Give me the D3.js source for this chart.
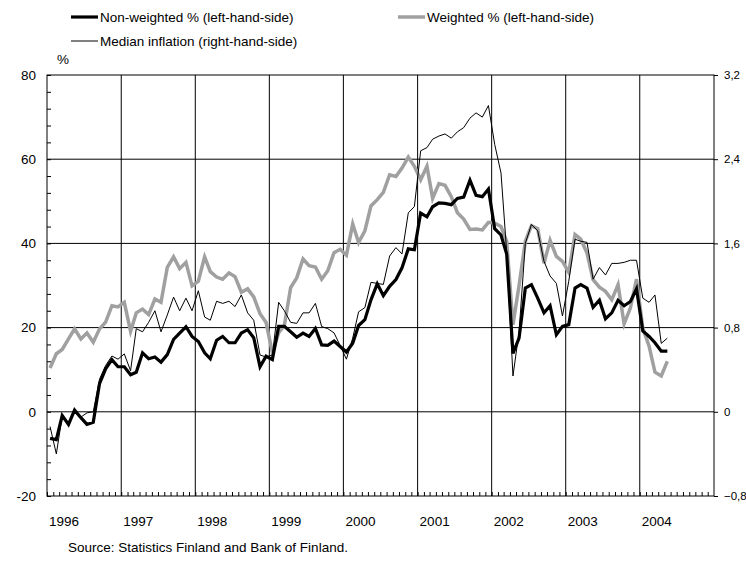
<!DOCTYPE html>
<meta charset="utf-8">
<head>
<style>
body { margin: 0; background: #fff; }
svg text { font-family: "Liberation Sans", Arial, sans-serif; fill: #000; }
</style>
<script src="https://cdnjs.cloudflare.com/ajax/libs/d3/7.8.5/d3.min.js"></script>
</head>
<body>
<div id="chart"></div>
<script>
// monthly observations, Jan 1996 .. May 2004
var startMonth = new Date(1996, 0, 1)
var years = [1996, 1997, 1998, 1999, 2000, 2001, 2002, 2003, 2004]
var leftTicks = [-20, 0, 20, 40, 60, 80]
var rightTicks = [-0.8, 0, 0.8, 1.6, 2.4, 3.2]

var nonWeighted = [
  -6.3, -6.6, -0.9, -3.0, 0.4, -1.4, -3.0, -2.5, 6.7, 10.2, 12.4, 10.7,
  10.7, 8.8, 9.4, 14.0, 12.6, 13.0, 11.8, 13.6, 17.2, 18.7, 20.2, 17.9,
  16.7, 14.0, 12.6, 17.0, 17.9, 16.4, 16.4, 18.7, 19.5, 17.6, 10.7, 13.2,
  12.4, 20.3, 20.3, 19.0, 17.7, 18.7, 17.9, 19.8, 15.9, 15.8, 16.8, 15.5,
  14.2, 16.3, 20.5, 21.9, 26.6, 30.4, 27.6, 29.8, 31.4, 34.2, 38.7, 38.5,
  47.2, 46.3, 48.7, 49.6, 49.5, 49.2, 50.7, 51.0, 55.0, 51.4, 51.1, 52.9,
  43.5, 42.0, 37.5, 13.9, 17.5, 29.4, 30.2, 27.0, 23.5, 25.2, 18.3, 20.3,
  20.7, 29.4, 30.2, 29.4, 24.8, 26.5, 22.1, 23.5, 26.5, 25.2, 26.2, 29.2,
  19.2, 17.9, 16.4, 14.4, 14.4
]

var weighted = [
  10.4, 13.8, 14.8, 17.3, 19.7, 17.3, 18.7, 16.5, 19.7, 21.3, 25.2, 24.9,
  26.0, 19.1, 23.5, 24.4, 23.1, 26.8, 26.0, 34.3, 36.8, 34.0, 35.5, 29.9,
  31.0, 36.8, 33.3, 32.0, 31.5, 33.0, 32.1, 28.4, 29.2, 27.3, 23.3, 21.2,
  14.0, 18.8, 20.5, 29.5, 31.8, 36.3, 34.7, 34.4, 31.5, 33.5, 37.8, 38.6,
  37.2, 44.6, 40.2, 43.0, 48.9, 50.4, 52.1, 56.3, 55.9, 57.9, 60.5, 58.3,
  55.1, 58.3, 50.7, 54.2, 53.8, 51.1, 47.3, 45.8, 43.3, 43.4, 43.2, 45.0,
  44.8, 44.0, 40.5, 20.7, 30.0, 40.5, 44.2, 43.5, 35.3, 40.7, 36.9, 35.7,
  33.1, 42.1, 41.0, 37.7, 31.4, 29.6, 28.6, 26.6, 30.2, 20.9, 24.7, 31.5,
  19.9, 15.6, 9.4, 8.5, 12.0
]

// right-hand-side scale
var medianInflation = [
  -0.14, -0.40, -0.04, -0.11, 0.01, -0.05, -0.01, 0.00, 0.31, 0.44, 0.53, 0.50,
  0.55, 0.39, 0.79, 0.76, 0.85, 0.96, 0.76, 0.92, 1.09, 0.96, 1.08, 0.96,
  1.15, 0.90, 0.87, 1.05, 1.03, 1.05, 1.00, 1.11, 0.94, 0.87, 0.54, 0.52,
  0.54, 1.04, 0.96, 0.85, 0.84, 0.94, 0.94, 1.03, 0.81, 0.79, 0.75, 0.63,
  0.50, 0.70, 0.95, 0.99, 1.23, 1.22, 1.21, 1.48, 1.56, 1.50, 1.89, 1.95,
  2.48, 2.51, 2.59, 2.62, 2.64, 2.60, 2.66, 2.70, 2.79, 2.84, 2.80, 2.91,
  2.54, 2.27, 1.52, 0.34, 0.76, 1.60, 1.78, 1.72, 1.43, 1.29, 1.22, 0.91,
  1.24, 1.64, 1.62, 1.61, 1.26, 1.37, 1.30, 1.41, 1.41, 1.42, 1.44, 1.44,
  1.08, 1.04, 1.11, 0.65, 0.70
]

var W = 746, H = 563
var plot = {left: 47, right: 714, top: 75, bottom: 496}

var months = d3.timeMonth.range(startMonth, new Date(2005, 0, 1))
var obsMonths = months.slice(0, nonWeighted.length)

var x = d3.scaleTime()
  .domain([startMonth, new Date(2005, 0, 1)])
  .range([plot.left, plot.right])
var yL = d3.scaleLinear().domain([-20, 80]).range([plot.bottom, plot.top])
var yR = d3.scaleLinear().domain([-0.8, 3.2]).range([plot.bottom, plot.top])

// points sit in the middle of each month
var mid = function(d){ return x(d3.timeDay.offset(d, 15)) }

var svg = d3.select('#chart').append('svg')
  .attr('width', W)
  .attr('height', H)

// grid
svg.append('g').selectAll('line')
  .data(leftTicks.slice(1, -1))
  .enter().append('line')
  .attr('x1', plot.left).attr('x2', plot.right)
  .attr('y1', function(d){ return yL(d) }).attr('y2', function(d){ return yL(d) })
  .attr('stroke', '#000').attr('stroke-width', 1)

svg.append('g').selectAll('line')
  .data(years.slice(1))
  .enter().append('line')
  .attr('x1', function(d){ return x(new Date(d, 0, 1)) })
  .attr('x2', function(d){ return x(new Date(d, 0, 1)) })
  .attr('y1', plot.top).attr('y2', plot.bottom)
  .attr('stroke', '#000').attr('stroke-width', 1)

// left axis: minor ticks inside, labels outside
var leftAxis = d3.axisRight(yL).tickValues(d3.range(-20, 81, 4)).tickSize(4).tickFormat('')
svg.append('g').attr('transform', 'translate(' + plot.left + ',0)').call(leftAxis)
svg.append('g').selectAll('text')
  .data(leftTicks)
  .enter().append('text')
  .attr('x', 36).attr('y', function(d){ return yL(d) })
  .attr('dy', '0.35em').attr('text-anchor', 'end')
  .style('font-size', '13.5px')
  .text(function(d){ return d })

// right axis
var rightAxis = d3.axisRight(yR).tickValues(rightTicks).tickSize(4)
  .tickPadding(6)
  .tickFormat(function(d){ return d === 0 ? '0' : d3.format('.1f')(d).replace('.', ',') })
svg.append('g').attr('class', 'raxis').attr('transform', 'translate(' + plot.right + ',0)').call(rightAxis)
svg.selectAll('.raxis text').style('font-size', '11.5px').style('font-family', '"Liberation Sans", Arial, sans-serif')

// bottom axis: monthly ticks inside
var bottomAxis = d3.axisTop(x).tickValues(months).tickSize(4).tickFormat('')
svg.append('g').attr('transform', 'translate(0,' + plot.bottom + ')').call(bottomAxis)

svg.selectAll('.domain').remove()

svg.append('g').selectAll('text')
  .data(years)
  .enter().append('text')
  .attr('x', function(d){ return x(new Date(d, 0, 1)) + 2 })
  .attr('y', 521).attr('dy', '0.35em')
  .style('font-size', '13.5px')
  .text(function(d){ return d })

// frame
svg.append('rect')
  .attr('x', plot.left).attr('y', plot.top)
  .attr('width', plot.right - plot.left).attr('height', plot.bottom - plot.top)
  .attr('fill', 'none').attr('stroke', '#000').attr('stroke-width', 1)

// series
var lineL = function(vals){
  return d3.line()
    .x(function(d, i){ return mid(obsMonths[i]) })
    .y(function(d){ return yL(d) })(vals)
}
var lineR = d3.line()
  .x(function(d, i){ return mid(obsMonths[i]) })
  .y(function(d){ return yR(d) })

svg.append('path').attr('d', lineL(weighted))
  .attr('fill', 'none').attr('stroke', '#a0a0a0').attr('stroke-width', 3.5)
  .attr('stroke-linejoin', 'miter')
svg.append('path').attr('d', lineL(nonWeighted))
  .attr('fill', 'none').attr('stroke', '#000').attr('stroke-width', 3.2)
svg.append('path').attr('d', lineR(medianInflation))
  .attr('fill', 'none').attr('stroke', '#000').attr('stroke-width', 1)

// legend
var legend = [
  {label: 'Non-weighted % (left-hand-side)', x: 71, y: 17, color: '#000', w: 3.2},
  {label: 'Weighted % (left-hand-side)', x: 398, y: 17, color: '#a0a0a0', w: 3.5},
  {label: 'Median inflation (right-hand-side)', x: 71, y: 41, color: '#000', w: 1}
]
var lg = svg.append('g').selectAll('g').data(legend).enter().append('g')
lg.append('line')
  .attr('x1', function(d){ return d.x }).attr('x2', function(d){ return d.x + 27 })
  .attr('y1', function(d){ return d.y }).attr('y2', function(d){ return d.y })
  .attr('stroke', function(d){ return d.color }).attr('stroke-width', function(d){ return d.w })
lg.append('text')
  .attr('x', function(d){ return d.x + 29 }).attr('y', function(d){ return d.y })
  .attr('dy', '0.35em').style('font-size', '13.5px')
  .text(function(d){ return d.label })

svg.append('text').attr('x', 57).attr('y', 59).attr('dy', '0.35em')
  .style('font-size', '13.5px').text('%')

svg.append('text').attr('x', 68).attr('y', 547).attr('dy', '0.35em')
  .style('font-size', '13.5px').text('Source: Statistics Finland and Bank of Finland.')
</script>
</body>
</html>
